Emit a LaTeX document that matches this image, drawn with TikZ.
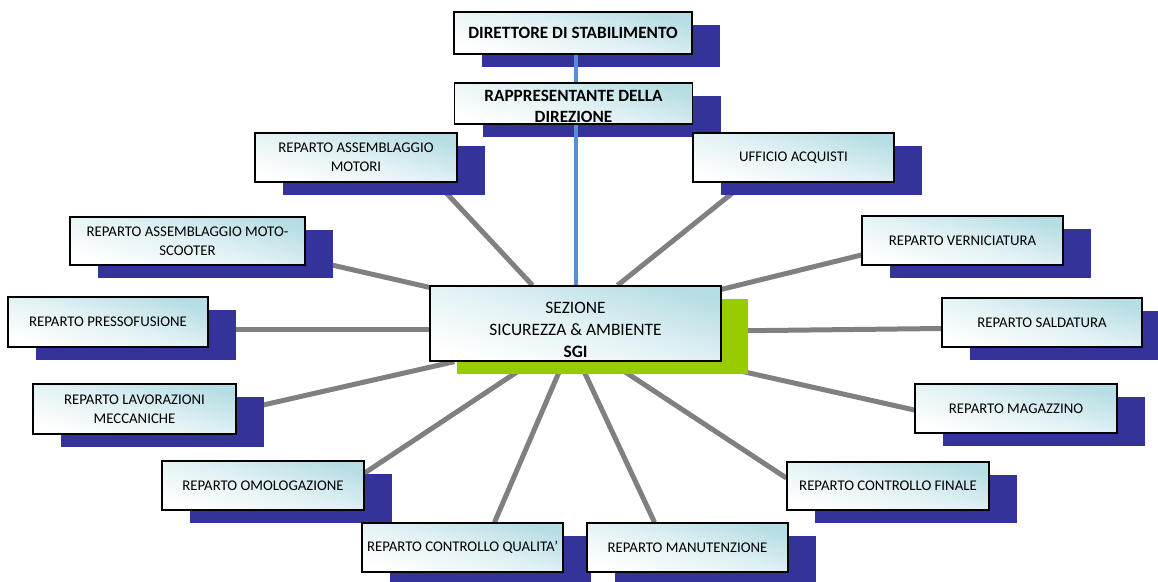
\documentclass[tikz,border=0pt]{standalone}
\usepackage{fontspec}
\setmainfont{Carlito}
\usetikzlibrary{calc,shadows}
\pgfdeclarelayer{background}
\pgfsetlayers{background,main}
\definecolor{shadowblue}{RGB}{51,51,153}
\definecolor{sgigreen}{RGB}{153,204,0}
\definecolor{boxcyan}{RGB}{182,221,228}
\definecolor{linkgray}{RGB}{128,128,128}
\definecolor{linkblue}{RGB}{85,142,213}

\begin{document}
\begin{tikzpicture}[x=1pt, y=-1pt,
	casella/.style={draw=black, line width=1.3pt, bottom color=white, top color=boxcyan, middle color=boxcyan!40, shading angle=-16, inner sep=0pt, align=center},
	ombrablu/.style={drop shadow={shadow xshift=28pt, shadow yshift=-13pt, opacity=1, fill=shadowblue}},
	reparto/.style={casella, ombrablu, minimum width=201, minimum height=49, font=\fontsize{14.8}{19}\selectfont},
	vertice/.style={casella, ombrablu, minimum width=238, minimum height=42, font=\bfseries\fontsize{17.2}{21}\selectfont},
	sezione/.style={casella, minimum width=291, minimum height=75, drop shadow={shadow xshift=27pt, shadow yshift=-13pt, opacity=1, fill=sgigreen}},
	collegamento/.style={draw=linkgray, line width=5pt},
	asse/.style={draw=linkblue, line width=4pt}]
		\useasboundingbox (0,0) rectangle (1158,581);
		
		\node[vertice] (dir) at (573,33) {DIRETTORE DI STABILIMENTO};
		\node[vertice, minimum height=41, label={[font=\bfseries\fontsize{17.2}{21}\selectfont, align=center, yshift=-3]center:RAPPRESENTANTE DELLA\\DIREZIONE}] (rapp) at (573.5,103.5) {};
		\node[sezione, label={[font=\fontsize{17.4}{22}\selectfont, align=center, yshift=-6]center:SEZIONE\\SICUREZZA \& AMBIENTE\\\textbf{SGI}}] (sez) at (575.5,323.5) {};
		
		\node[reparto, minimum width=202] (motori) at (356,157.5) {REPARTO ASSEMBLAGGIO\\MOTORI};
		\node[reparto] (acquisti) at (793.5,157.5) {UFFICIO ACQUISTI};
		\node[reparto, minimum width=235, minimum height=48] (scooter) at (187.5,241) {REPARTO ASSEMBLAGGIO MOTO-\\SCOOTER};
		\node[reparto] (vernic) at (962.5,240.5) {REPARTO VERNICIATURA};
		\node[reparto, minimum width=200, minimum height=50] (presso) at (108,322) {REPARTO PRESSOFUSIONE};
		\node[reparto, minimum width=200] (saldat) at (1042,322.5) {REPARTO SALDATURA};
		\node[reparto, minimum width=203, minimum height=50] (lavoraz) at (134.5,409) {REPARTO LAVORAZIONI\\MECCANICHE};
		\node[reparto, minimum width=202] (magaz) at (1016,408.5) {REPARTO MAGAZZINO};
		\node[reparto, minimum width=202] (omolog) at (263,485.5) {REPARTO OMOLOGAZIONE};
		\node[reparto, minimum width=202, minimum height=48] (finale) at (888,486) {REPARTO CONTROLLO FINALE};
		\node[reparto] (qualita) at (462.5,547.5) {REPARTO CONTROLLO QUALITA’};
		\node[reparto] (manut) at (687.5,547.5) {REPARTO MANUTENZIONE};
		
		\draw[asse] (dir.south -| sez.north) -- (rapp.north -| sez.north);
		\draw[asse] (rapp.south -| sez.north) -- (sez.north);
		
		\begin{pgfonlayer}{background}
			\draw[collegamento] ($(motori.south east)+(-21,0)$) -- ($(sez.north)+(-43,0)$);
			\draw[collegamento] ($(acquisti.south west)+(53,0)$) -- ($(sez.north)+(42,0)$);
			\draw[collegamento] ($(scooter.east)+(0,18)$) -- ($(sez.north west)+(0,2)$);
			\draw[collegamento] ($(vernic.west)+(0,14.5)$) -- ($(sez.north east)+(0,4)$);
			\draw[collegamento] ($(presso.east)+(0,7)$) -- ($(sez.west)+(0,5.5)$);
			\draw[collegamento] ($(saldat.west)+(0,6)$) -- ($(sez.east)+(0,7.5)$);
			\draw[collegamento] ($(lavoraz.east)+(0,2)$) -- ($(sez.south west)+(25,0)$);
			\draw[collegamento] ($(magaz.west)+(0,1.5)$) -- ($(sez.south east)+(-23,0)$);
			\draw[collegamento] ($(omolog.east)+(0,-12.5)$) -- ($(sez.south)+(-43,0)$);
			\draw[collegamento] ($(qualita.north)+(32,0)$) -- ($(sez.south)+(-12,0)$);
			\draw[collegamento] ($(manut.north)+(-33,0)$) -- ($(sez.south)+(4,0)$);
			\draw[collegamento] ($(finale.west)+(0,-8)$) -- ($(sez.south)+(34,0)$);
		\end{pgfonlayer}
		
\end{tikzpicture}
\end{document}
